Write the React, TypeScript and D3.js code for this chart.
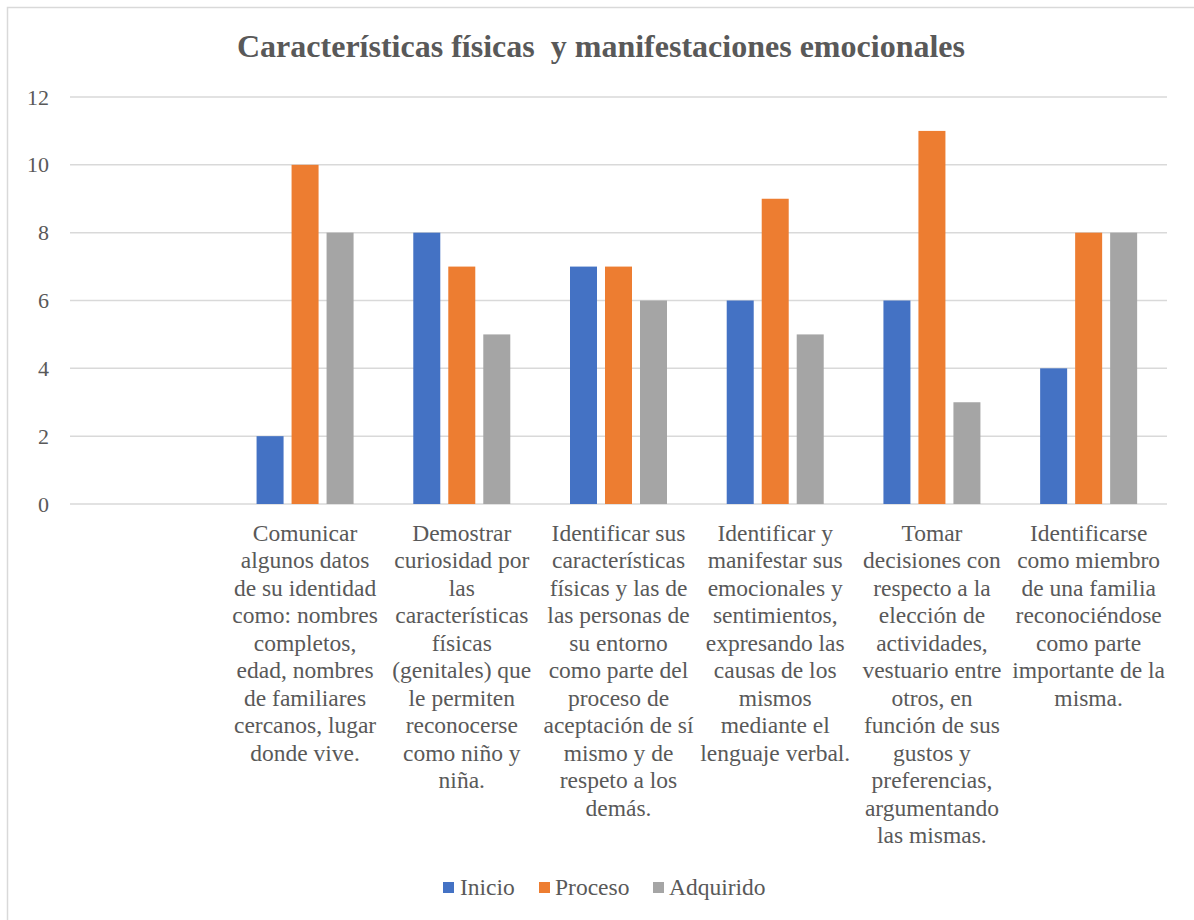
import React from "react";
import * as d3 from "d3";

const categories: string[] = ["", "c1", "c2", "c3", "c4", "c5", "c6"];
const categoryLines: string[][] = [
  [],
  ["Comunicar", "algunos datos", "de su identidad", "como: nombres", "completos,", "edad, nombres", "de familiares", "cercanos, lugar", "donde vive."],
  ["Demostrar", "curiosidad por", "las", "características", "físicas", "(genitales) que", "le permiten", "reconocerse", "como niño y", "niña."],
  ["Identificar sus", "características", "físicas y las de", "las personas de", "su entorno", "como parte del", "proceso de", "aceptación de sí", "mismo y de", "respeto a los", "demás."],
  ["Identificar y", "manifestar sus", "emocionales y", "sentimientos,", "expresando las", "causas de los", "mismos", "mediante el", "lenguaje verbal."],
  ["Tomar", "decisiones con", "respecto a la", "elección de", "actividades,", "vestuario entre", "otros, en", "función de sus", "gustos y", "preferencias,", "argumentando", "las mismas."],
  ["Identificarse", "como miembro", "de una familia", "reconociéndose", "como parte", "importante de la", "misma."],
];
const seriesNames: string[] = ["Inicio", "Proceso", "Adquirido"];
const inicio: (number | null)[] = [null, 2, 8, 7, 6, 6, 4];
const proceso: (number | null)[] = [null, 10, 7, 7, 9, 11, 8];
const adquirido: (number | null)[] = [null, 8, 5, 6, 5, 3, 8];
const yTicks: number[] = [0, 2, 4, 6, 8, 10, 12];
const colors: string[] = ["#4472C4", "#ED7D31", "#A5A5A5"];
const title = "Características físicas  y manifestaciones emocionales";

const FONT = '"Liberation Serif", "Times New Roman", serif';

export default function App() {
  const W = 1194, H = 920;
  const left = 70, right = 1167, top = 97, bottom = 504;
  const seriesValues = [inicio, proceso, adquirido];
  const x0 = d3.scaleBand<string>().domain(categories).range([left, right]).padding(0);
  const groupW = 97;
  const x1 = d3.scaleBand<string>().domain(seriesNames).range([0, groupW]).paddingInner(8 / 35).paddingOuter(0);
  const y = d3.scaleLinear().domain([0, 12]).range([bottom, top]);
  const text = "#595959";
  const ts = { fontFamily: FONT, whiteSpace: "pre" as const };

  const legendItems = [
    { name: "Inicio", sx: 443, tx: 460 },
    { name: "Proceso", sx: 539, tx: 555 },
    { name: "Adquirido", sx: 653, tx: 669 },
  ];

  return (
    <svg width={W} height={H} style={{ position: "absolute", left: 0, top: 0, background: "#fff", fontFamily: FONT }}>
      <rect x={7.5} y={7.5} width={W + 10} height={H + 10} fill="#fff" stroke="#D9D9D9" strokeWidth={1.5} />
      <text x={601} y={57} textAnchor="middle" fontSize={32} fontWeight="bold" fill={text} style={ts} textLength={728} lengthAdjust="spacingAndGlyphs">
        {title}
      </text>
      {yTicks.map((t) => (
        <g key={t}>
          <line x1={left} x2={right} y1={y(t)} y2={y(t)} stroke="#D9D9D9" strokeWidth={1.5} />
          <text x={49} y={y(t) + 7.5} textAnchor="end" fontSize={22} fill={text} style={ts}>{t}</text>
        </g>
      ))}
      {categories.map((c, ci) => {
        const cx = (x0(c) as number) + x0.bandwidth() / 2;
        return (
          <g key={"c" + ci}>
            {seriesNames.map((s, si) => {
              const v = seriesValues[si][ci];
              if (v == null) return null;
              const bx = cx - groupW / 2 + (x1(s) as number);
              return <rect key={s} x={bx} y={y(v)} width={x1.bandwidth()} height={y(0) - y(v)} fill={colors[si]} />;
            })}
            {categoryLines[ci].map((ln, li) => (
              <text key={li} x={cx} y={541 + li * 27.45} textAnchor="middle" fontSize={23.5} fill={text} style={ts}>{ln}</text>
            ))}
          </g>
        );
      })}
      {legendItems.map((it, i) => (
        <g key={it.name}>
          <rect x={it.sx} y={882} width={11} height={11} fill={colors[i]} />
          <text x={it.tx} y={895} fontSize={23.5} fill={text} style={ts}>{it.name}</text>
        </g>
      ))}
    </svg>
  );
}
